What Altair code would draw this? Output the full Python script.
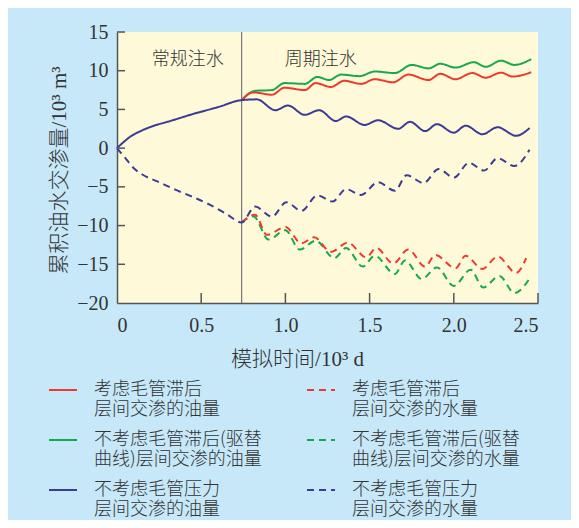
import altair as alt
import pandas as pd

# ---- data (x in 10^3 d, y in 10^3 m^3) ----
pre_x = [0, 0.04, 0.08, 0.14, 0.22, 0.30, 0.45, 0.60, 0.74]
pre_oil = [0, 0.8, 1.5, 2.2, 2.9, 3.4, 4.4, 5.3, 6.2]
pre_wx = [0, 0.05, 0.10, 0.15, 0.25, 0.35, 0.45, 0.55, 0.65, 0.74]
pre_water = [0, -1.3, -2.6, -3.4, -4.4, -5.4, -6.3, -7.3, -8.5, -9.6]

blue_oil_x = [0.74, 0.83, 0.94, 1.015, 1.115, 1.20, 1.30, 1.36, 1.47, 1.55, 1.67, 1.74, 1.83, 1.90, 2.00, 2.07, 2.17, 2.26, 2.37, 2.45]
blue_oil_y = [6.2, 6.3, 4.9, 5.5, 4.3, 4.9, 3.5, 4.1, 3.0, 3.6, 2.5, 3.4, 2.2, 3.1, 2.0, 2.9, 1.8, 2.7, 1.6, 2.6]

red_oil_x = [0.74, 0.81, 0.92, 0.995, 1.115, 1.18, 1.27, 1.35, 1.45, 1.53, 1.64, 1.73, 1.85, 1.92, 2.01, 2.11, 2.19, 2.28, 2.35, 2.46]
red_oil_y = [6.2, 7.2, 6.9, 7.8, 7.5, 8.4, 7.9, 8.7, 8.3, 8.9, 8.5, 9.5, 8.8, 9.6, 8.9, 9.7, 9.1, 9.75, 9.25, 9.8]

green_oil_x = [0.74, 0.82, 0.92, 0.995, 1.115, 1.19, 1.26, 1.33, 1.44, 1.53, 1.65, 1.75, 1.85, 1.92, 2.01, 2.12, 2.19, 2.28, 2.36, 2.46]
green_oil_y = [6.2, 7.4, 7.5, 8.4, 8.3, 9.2, 8.8, 9.5, 9.3, 9.9, 9.7, 10.75, 10.3, 10.9, 10.4, 11.1, 10.5, 11.3, 10.75, 11.5]

blue_water_x = [0.74, 0.82, 0.92, 1.005, 1.095, 1.19, 1.28, 1.36, 1.45, 1.55, 1.65, 1.72, 1.82, 1.91, 2.00, 2.09, 2.18, 2.26, 2.36, 2.45]
blue_water_y = [-9.6, -7.55, -8.85, -7.0, -8.1, -6.1, -6.9, -5.3, -6.05, -4.4, -5.5, -3.5, -4.5, -2.7, -3.8, -1.9, -2.9, -1.3, -2.3, -0.2]

red_water_x = [0.74, 0.82, 0.89, 1.0, 1.095, 1.17, 1.27, 1.37, 1.48, 1.54, 1.64, 1.73, 1.83, 1.89, 2.01, 2.07, 2.17, 2.26, 2.37, 2.43]
red_water_y = [-9.6, -8.6, -11.2, -10.2, -12.3, -11.5, -13.4, -12.2, -14.1, -12.9, -14.9, -13.1, -15.3, -13.8, -15.5, -13.9, -15.6, -14.0, -16.1, -14.2]

green_water_x = [0.74, 0.81, 0.90, 1.0, 1.085, 1.18, 1.29, 1.36, 1.46, 1.53, 1.65, 1.71, 1.81, 1.90, 2.0, 2.10, 2.175, 2.27, 2.36, 2.46]
green_water_y = [-9.6, -8.8, -11.8, -10.6, -13.1, -11.95, -14.2, -12.9, -15.3, -13.9, -16.25, -14.5, -16.9, -15.4, -17.8, -15.7, -18.0, -16.5, -18.7, -16.5]

# legend order (column-major: first three in left column)
series_names = [
    "考虑毛管滞后|层间交渗的油量",
    "不考虑毛管滞后(驱替|曲线)层间交渗的油量",
    "不考虑毛管压力|层间交渗的油量",
    "考虑毛管滞后|层间交渗的水量",
    "不考虑毛管滞后(驱替|曲线)层间交渗的水量",
    "不考虑毛管压力|层间交渗的水量",
]
series_colors = ["#ee3a2c", "#17a84b", "#3b3b98", "#ee3a2c", "#17a84b", "#3b3b98"]
series_dashes = [[1, 0], [1, 0], [1, 0], [7, 5], [7, 5], [7, 5]]

stage_labels = ["常规注水", "周期注水"]
stage_x = [0.42, 1.21]
stage_y = [11.4, 11.4]
switch_x = [0.74]

x_ticks = [0, 0.5, 1.0, 1.5, 2.0, 2.5]
y_ticks = [-20, -15, -10, -5, 0, 5, 10, 15]

# ---- build table ----
rows = []
def add(name, xs, ys, order):
    for i, (a, b) in enumerate(zip(xs, ys)):
        rows.append({"series": name, "x": a, "y": b, "o": order * 1000 + i})

add(series_names[1], green_oil_x, green_oil_y, 0)
add(series_names[4], green_water_x, green_water_y, 1)
add(series_names[0], red_oil_x, red_oil_y, 2)
add(series_names[3], red_water_x, red_water_y, 3)
add(series_names[2], pre_x + blue_oil_x[1:], pre_oil + blue_oil_y[1:], 4)
add(series_names[5], pre_wx + blue_water_x[1:], pre_water + blue_water_y[1:], 5)
df = pd.DataFrame(rows)

W, H = 421, 271
SERIF = "Liberation Serif, Noto Sans CJK SC"
CJK = "Noto Sans CJK SC"
TXT = "#333333"
AX = "#555555"

xs = alt.Scale(domain=[0, 2.5], nice=False)
ys = alt.Scale(domain=[-20, 15], nice=False)

xaxis = alt.Axis(
    values=x_ticks, format=".1f", labelOverlap=False,
    labelExpr="datum.value == 0 ? '0' : datum.label",
    title="模拟时间/10³ d", titleX=180, titleAlign="center",
    titlePadding=13, labelPadding=12)
yaxis = alt.Axis(
    values=y_ticks, format="d", labelOverlap=False, title="累积油水交渗量/10³ m³",
    titlePadding=7, labelPadding=9, titleY=138)

legend = alt.Legend(
    title=None, orient="none", legendX=-69, legendY=343, columns=2,
    symbolType="stroke", symbolSize=784, symbolStrokeWidth=2,
    labelFont=CJK, labelFontSize=18, labelFontWeight=300, labelColor=TXT,
    labelExpr="split(datum.label, '|')", labelLimit=400,
    labelOffset=16, columnPadding=41, rowPadding=6, labelBaseline="middle",
    padding=0,
)

lines = alt.Chart(df).mark_line(strokeWidth=2, interpolate="monotone").encode(
    x=alt.X("x:Q", scale=xs, axis=xaxis),
    y=alt.Y("y:Q", scale=ys, axis=yaxis),
    color=alt.Color("series:N", scale=alt.Scale(domain=series_names, range=series_colors), legend=legend),
    strokeDash=alt.StrokeDash("series:N", scale=alt.Scale(domain=series_names, range=series_dashes), legend=legend),
    detail="series:N",
    order="o:Q",
)

divider = alt.Chart(pd.DataFrame({"x": switch_x})).mark_rule(color="#777777", strokeWidth=1.2).encode(
    x=alt.X("x:Q", scale=xs, axis=xaxis), y=alt.value(0), y2=alt.value(H))

xtick = alt.Chart(pd.DataFrame({"x": x_ticks[1:]})).mark_rule(color=AX, strokeWidth=1.5).encode(
    x=alt.X("x:Q", scale=xs, axis=xaxis), y=alt.value(H), y2=alt.value(H - 10))

ytick = alt.Chart(pd.DataFrame({"y": y_ticks[1:]})).mark_rule(color=AX, strokeWidth=1.5).encode(
    y=alt.Y("y:Q", scale=ys, axis=yaxis), x=alt.value(0), x2=alt.value(8))

stage = alt.Chart(pd.DataFrame({"t": stage_labels, "x": stage_x, "y": stage_y})).mark_text(
    font=CJK, fontSize=18, fontWeight=300, color=TXT).encode(
    x=alt.X("x:Q", scale=xs, axis=xaxis), y=alt.Y("y:Q", scale=ys, axis=yaxis), text="t:N")

chart = alt.layer(divider, lines, xtick, ytick, stage).properties(
    width=W, height=H, background="#c6e8f8",
    padding={"left": 109, "top": 24, "right": 33, "bottom": 217},
    autosize="none",
).configure_view(fill="#fdf9d9", strokeWidth=0).configure_axis(
    grid=False, ticks=False, domainColor=AX, domainWidth=1.5, labelOverlap=False,
    labelFont=SERIF, labelFontSize=20, labelColor=TXT,
    titleFont=SERIF, titleFontSize=21, titleColor=TXT, titleFontWeight=300,
)

chart.save("out.html", embed_options={"renderer": "svg", "actions": False})
